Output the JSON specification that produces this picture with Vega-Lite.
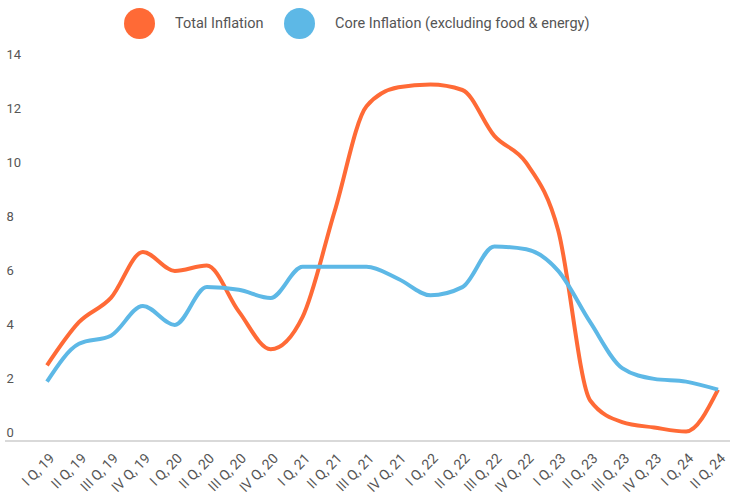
{
  "$schema": "https://vega.github.io/schema/vega-lite/v6.json",
  "width": 725,
  "height": 378,
  "autosize": {"type": "none"},
  "padding": {"left": 5, "top": 63, "right": 0, "bottom": 56},
  "background": "white",
  "config": {
    "view": {"stroke": null},
    "font": "Roboto",
    "axis": {"labelFont": "Roboto", "labelColor": "#555555", "grid": false, "ticks": false, "tickSize": 0},
    "legend": {"labelFont": "Roboto"}
  },
  "data": {
    "values": [
      {"quarter": "I Q, 19", "series": "Total Inflation", "value": 2.8},
      {"quarter": "II Q, 19", "series": "Total Inflation", "value": 4.4},
      {"quarter": "III Q, 19", "series": "Total Inflation", "value": 5.3},
      {"quarter": "IV Q, 19", "series": "Total Inflation", "value": 7.0},
      {"quarter": "I Q, 20", "series": "Total Inflation", "value": 6.3},
      {"quarter": "II Q, 20", "series": "Total Inflation", "value": 6.5},
      {"quarter": "III Q, 20", "series": "Total Inflation", "value": 4.8},
      {"quarter": "IV Q, 20", "series": "Total Inflation", "value": 3.4},
      {"quarter": "I Q, 21", "series": "Total Inflation", "value": 4.6},
      {"quarter": "II Q, 21", "series": "Total Inflation", "value": 8.5},
      {"quarter": "III Q, 21", "series": "Total Inflation", "value": 12.4},
      {"quarter": "IV Q, 21", "series": "Total Inflation", "value": 13.1},
      {"quarter": "I Q, 22", "series": "Total Inflation", "value": 13.2},
      {"quarter": "II Q, 22", "series": "Total Inflation", "value": 13.0},
      {"quarter": "III Q, 22", "series": "Total Inflation", "value": 11.3},
      {"quarter": "IV Q, 22", "series": "Total Inflation", "value": 10.3},
      {"quarter": "I Q, 23", "series": "Total Inflation", "value": 7.8},
      {"quarter": "II Q, 23", "series": "Total Inflation", "value": 1.5},
      {"quarter": "III Q, 23", "series": "Total Inflation", "value": 0.7},
      {"quarter": "IV Q, 23", "series": "Total Inflation", "value": 0.5},
      {"quarter": "I Q, 24", "series": "Total Inflation", "value": 0.35},
      {"quarter": "II Q, 24", "series": "Total Inflation", "value": 1.9},
      {"quarter": "I Q, 19", "series": "Core Inflation (excluding food & energy)", "value": 2.2},
      {"quarter": "II Q, 19", "series": "Core Inflation (excluding food & energy)", "value": 3.6},
      {"quarter": "III Q, 19", "series": "Core Inflation (excluding food & energy)", "value": 3.9},
      {"quarter": "IV Q, 19", "series": "Core Inflation (excluding food & energy)", "value": 5.0},
      {"quarter": "I Q, 20", "series": "Core Inflation (excluding food & energy)", "value": 4.3},
      {"quarter": "II Q, 20", "series": "Core Inflation (excluding food & energy)", "value": 5.7},
      {"quarter": "III Q, 20", "series": "Core Inflation (excluding food & energy)", "value": 5.6},
      {"quarter": "IV Q, 20", "series": "Core Inflation (excluding food & energy)", "value": 5.3},
      {"quarter": "I Q, 21", "series": "Core Inflation (excluding food & energy)", "value": 6.45},
      {"quarter": "II Q, 21", "series": "Core Inflation (excluding food & energy)", "value": 6.45},
      {"quarter": "III Q, 21", "series": "Core Inflation (excluding food & energy)", "value": 6.45},
      {"quarter": "IV Q, 21", "series": "Core Inflation (excluding food & energy)", "value": 6.0},
      {"quarter": "I Q, 22", "series": "Core Inflation (excluding food & energy)", "value": 5.4},
      {"quarter": "II Q, 22", "series": "Core Inflation (excluding food & energy)", "value": 5.7},
      {"quarter": "III Q, 22", "series": "Core Inflation (excluding food & energy)", "value": 7.2},
      {"quarter": "IV Q, 22", "series": "Core Inflation (excluding food & energy)", "value": 7.1},
      {"quarter": "I Q, 23", "series": "Core Inflation (excluding food & energy)", "value": 6.3},
      {"quarter": "II Q, 23", "series": "Core Inflation (excluding food & energy)", "value": 4.4},
      {"quarter": "III Q, 23", "series": "Core Inflation (excluding food & energy)", "value": 2.7},
      {"quarter": "IV Q, 23", "series": "Core Inflation (excluding food & energy)", "value": 2.3},
      {"quarter": "I Q, 24", "series": "Core Inflation (excluding food & energy)", "value": 2.2},
      {"quarter": "II Q, 24", "series": "Core Inflation (excluding food & energy)", "value": 1.9}
    ]
  },
  "layer": [
    {
      "mark": {"type": "rule", "color": "#d9d9d9", "strokeWidth": 2},
      "encoding": {"y": {"datum": 0, "type": "quantitative"}}
    },
    {
      "mark": {"type": "line", "interpolate": "monotone", "strokeWidth": 4},
      "encoding": {
        "x": {
          "field": "quarter",
          "type": "ordinal",
          "sort": null,
          "scale": {"type": "point", "range": [42, 713], "padding": 0},
          "axis": {
            "title": null,
            "labelAngle": -45,
            "labelFontSize": 14,
            "labelPadding": 10,
            "domain": false
          }
        },
        "y": {
          "field": "value",
          "type": "quantitative",
          "scale": {"domain": [0, 14], "nice": false},
          "axis": {
            "title": null,
            "values": [0, 2, 4, 6, 8, 10, 12, 14],
            "domain": false,
            "labelAlign": "left",
            "labelBaseline": "bottom",
            "labelPadding": -1,
            "labelFontSize": 13,
            "labelOffset": -2
          }
        },
        "color": {
          "field": "series",
          "type": "nominal",
          "scale": {
            "domain": ["Total Inflation", "Core Inflation (excluding food & energy)"],
            "range": ["#ff6a36", "#5db8e6"]
          },
          "legend": {
            "title": null,
            "orient": "none",
            "legendX": 119,
            "legendY": -55,
            "direction": "horizontal",
            "symbolType": "circle",
            "symbolSize": 961,
            "symbolStrokeWidth": 0,
            "labelFontSize": 14.5,
            "labelColor": "#555555",
            "labelOffset": 20,
            "columnPadding": 20,
            "padding": 0,
            "labelLimit": 400,
            "encode": {
              "symbols": {"update": {"fill": {"scale": "color", "field": "value"}, "strokeWidth": {"value": 0}}}
            }
          }
        }
      }
    }
  ]
}
